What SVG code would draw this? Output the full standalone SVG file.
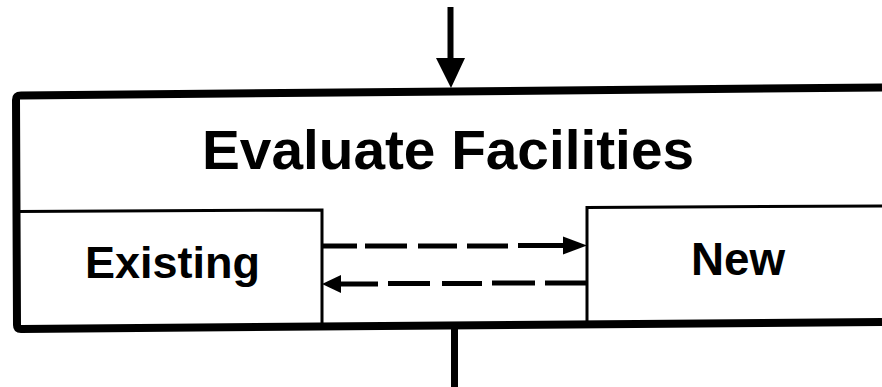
<svg xmlns="http://www.w3.org/2000/svg" width="882" height="387" viewBox="0 0 882 387">
  <defs>
    <style>
      .thick { fill: none; stroke: #000; stroke-width: 8; stroke-linejoin: round; }
      .thin { fill: none; stroke: #000; stroke-width: 3; }
      .dash { fill: none; stroke: #000; stroke-width: 5; }
      .lbl { font-family: "Liberation Sans", Arial, sans-serif; font-weight: bold; fill: #000; text-anchor: middle; }
    </style>
  </defs>
  <rect width="882" height="387" fill="#fff"/>

  <g id="evaluate-facilities">
    <path class="thick" d="M 882 87.5 L 21 95.5 Q 16 95.5 16 100 L 17 325 Q 17 329 21 329 L 882 322"/>
    <text class="lbl" x="448" y="169" font-size="56" textLength="492" lengthAdjust="spacingAndGlyphs">Evaluate Facilities</text>
  </g>

  <g id="existing">
    <path class="thin" d="M 17 211.5 L 322 210 L 322 327"/>
    <text class="lbl" x="172.5" y="278" font-size="45" textLength="175" lengthAdjust="spacingAndGlyphs">Existing</text>
  </g>

  <g id="new">
    <path class="thin" d="M 587 323 L 587 207.5 L 882 206"/>
    <text class="lbl" x="738" y="275" font-size="46" textLength="94" lengthAdjust="spacingAndGlyphs">New</text>
  </g>

  <g id="connectors">
    <!-- incoming arrow -->
    <line x1="450.5" y1="7" x2="450.5" y2="62" stroke="#000" stroke-width="6"/>
    <polygon points="436,58 465,58 451,88" fill="#000"/>
    <!-- outgoing stem -->
    <line x1="454.5" y1="325" x2="454.5" y2="387" stroke="#000" stroke-width="7"/>
    <!-- dashed: Existing to New -->
    <path class="dash" d="M 322 246 L 357 246 M 365 246 L 407 246 M 418 246 L 457 246 M 467 246 L 508 246 M 518 245.5 L 566 245.5"/>
    <polygon points="563,236.5 587,245.5 563,254.5" fill="#000"/>
    <!-- dashed: New to Existing -->
    <path class="dash" d="M 587 283 L 545 283 M 535 283 L 492 283 M 482 283.5 L 442 283.5 M 430 283.5 L 388 283.5 M 378 284 L 338 284"/>
    <polygon points="341,275 322,284 341,293" fill="#000"/>
  </g>
</svg>
